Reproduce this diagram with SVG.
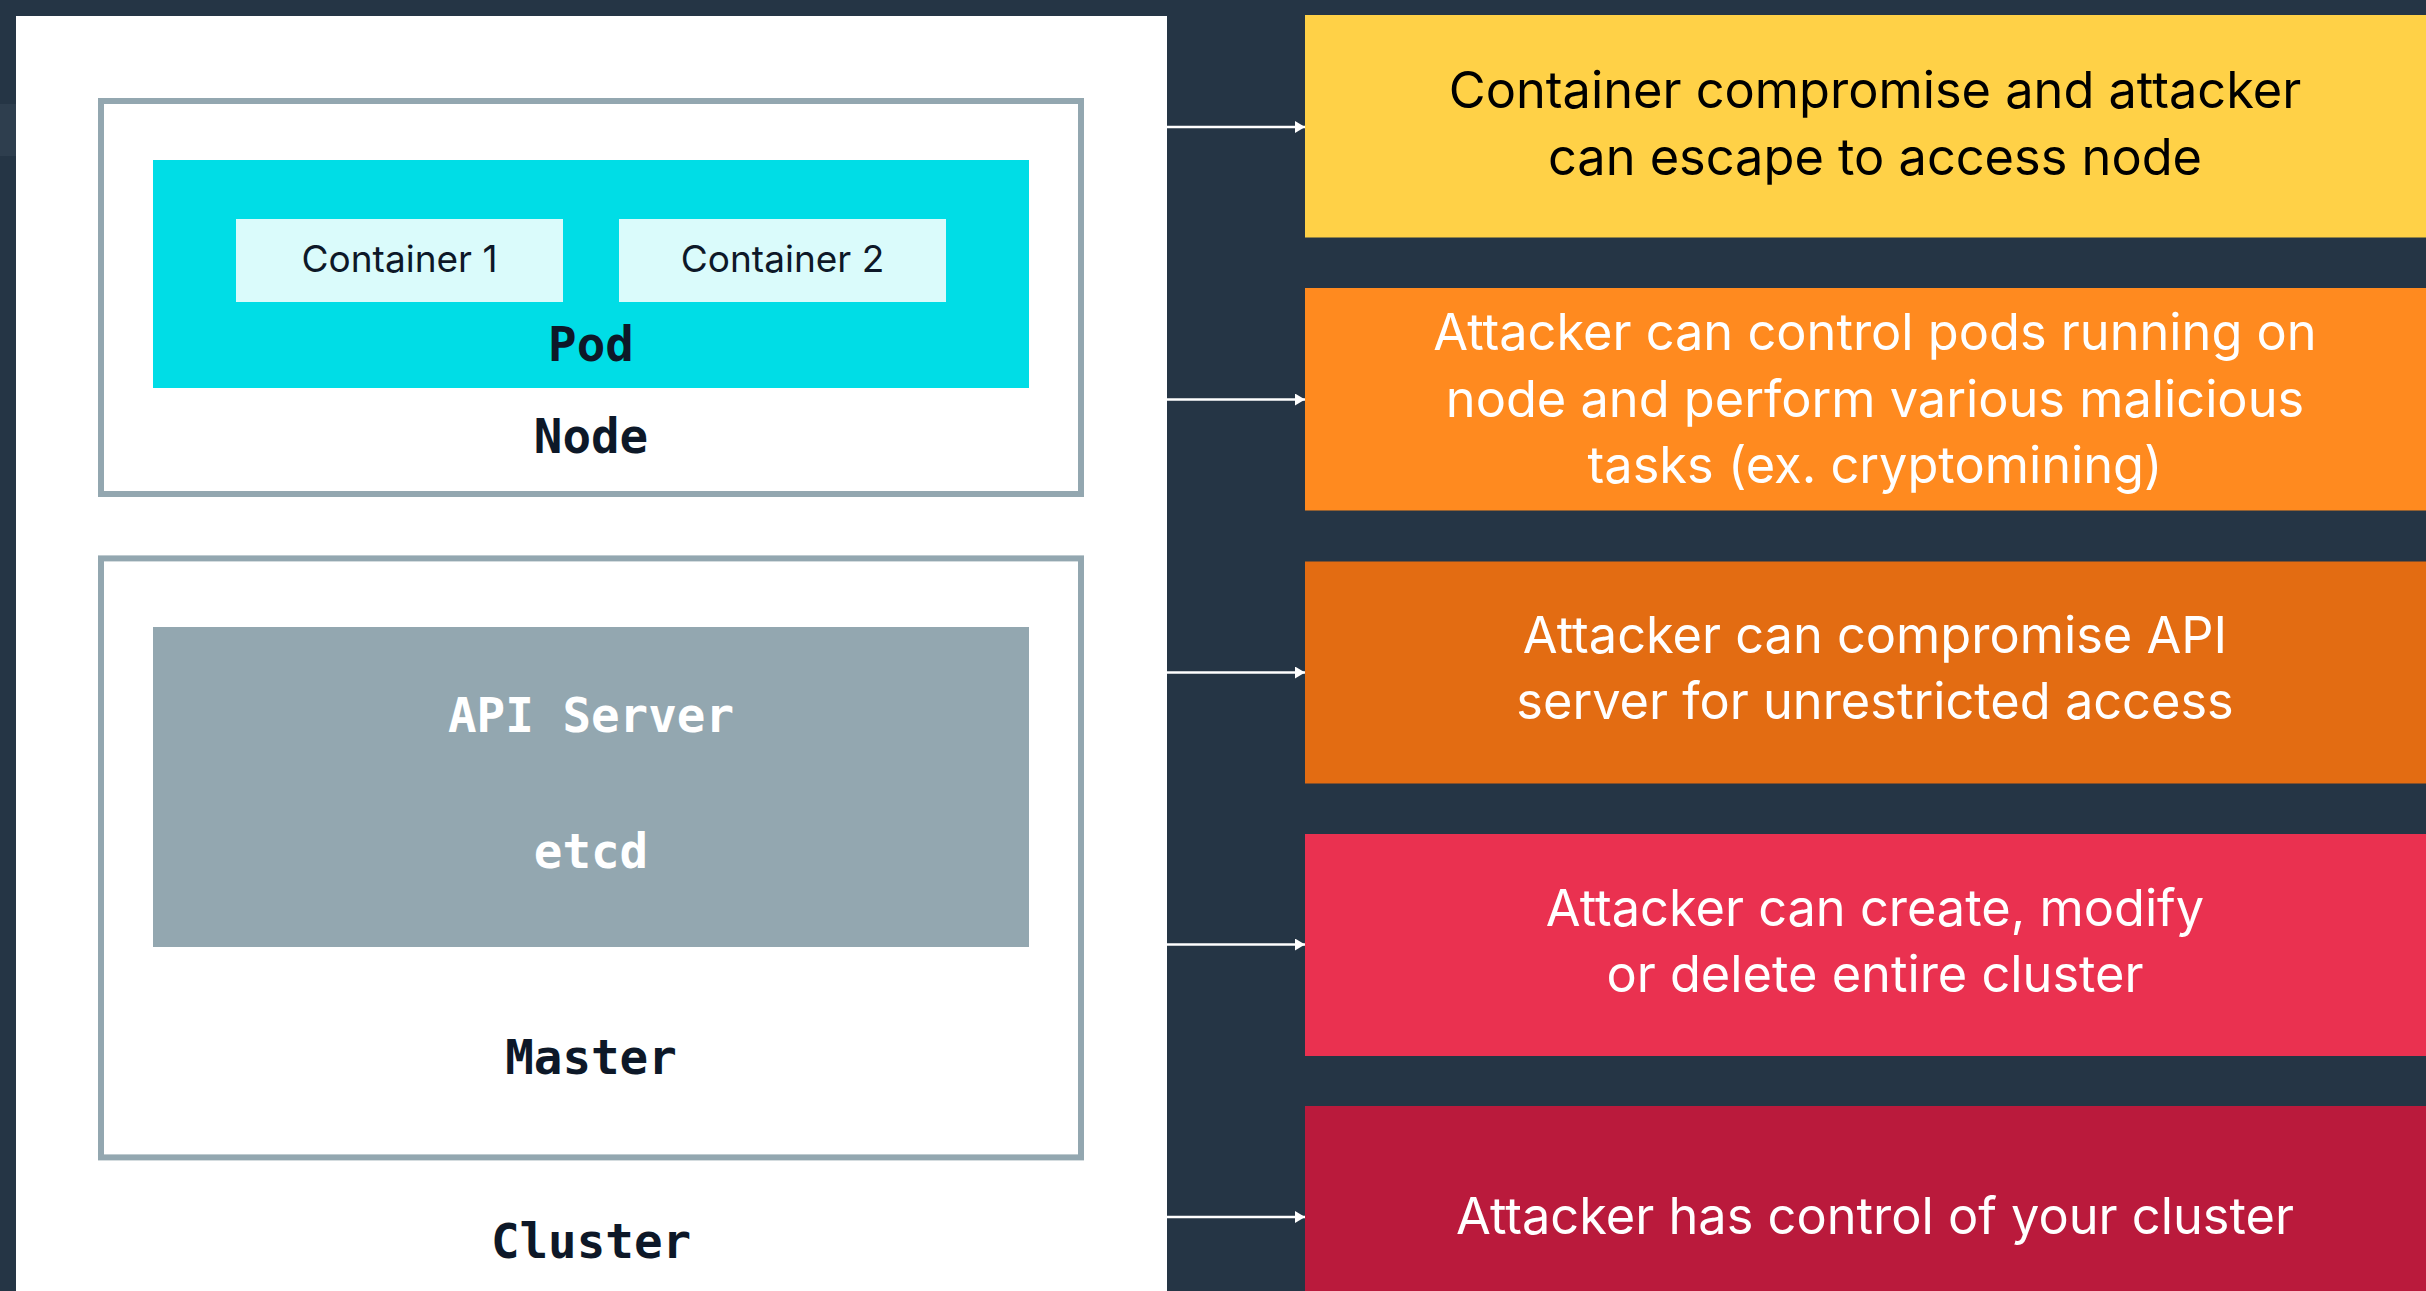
<svg xmlns="http://www.w3.org/2000/svg" width="2426" height="1291" viewBox="0 0 2426 1291">
<defs>
<style>
.mono{font-family:"DejaVu Sans Mono","Liberation Mono",monospace;font-weight:bold;font-size:47.5px;text-anchor:middle}
.dark{fill:#0d1828}
.light{fill:#ffffff}
.sans{font-family:Inter,"Noto Sans",sans-serif;text-anchor:middle}
.risk{font-size:50.5px}
.frame{fill:#ffffff;stroke:#93a7b0;stroke-width:6}
.conn{stroke:#ffffff;stroke-width:2.5;fill:none}
</style>
<marker id="ah" viewBox="0 0 10 12" refX="10" refY="6" markerUnits="userSpaceOnUse" markerWidth="10" markerHeight="12" orient="auto">
<path d="M0,0 L10,6 L0,12 Z" fill="#ffffff"/>
</marker>
</defs>
<rect x="0" y="0" width="2426" height="1291" fill="#253545"/>
<rect x="0" y="104" width="16" height="52" fill="#2e3e4e"/>
<g id="cluster">
<rect x="16" y="16" width="1151" height="1275" fill="#ffffff"/>
<text class="mono dark" x="591" y="1258">Cluster</text>
</g>
<g id="node">
<rect class="frame" x="101" y="101" width="980" height="393"/>
<text class="mono dark" x="591" y="453">Node</text>
</g>
<g id="pod">
<rect x="153" y="160" width="876" height="228" fill="#00dde6"/>
<text class="mono dark" x="591" y="361">Pod</text>
</g>
<g id="container1">
<rect x="236" y="219" width="327" height="83" fill="#dafbfb"/>
<text class="sans dark" x="399.5" y="272" font-size="37">Container 1</text>
</g>
<g id="container2">
<rect x="619" y="219" width="327" height="83" fill="#dafbfb"/>
<text class="sans dark" x="782.5" y="272" font-size="37">Container 2</text>
</g>
<g id="master">
<rect class="frame" x="101" y="558.4" width="980" height="599"/>
<text class="mono dark" x="591" y="1074">Master</text>
</g>
<g id="apiserver">
<rect x="153" y="627" width="876" height="320" fill="#93a7b0"/>
<text class="mono light" x="591" y="732">API Server</text>
<text class="mono light" x="591" y="868">etcd</text>
</g>
<g id="risk1">
<rect x="1305" y="15" width="1121" height="222.5" fill="#ffd147"/>
<text class="sans risk" x="1875" y="108" fill="#000000">Container compromise and attacker</text>
<text class="sans risk" x="1875" y="175" fill="#000000">can escape to access node</text>
</g>
<g id="risk2">
<rect x="1305" y="288" width="1121" height="222.5" fill="#ff8a1f"/>
<text class="sans risk light" x="1875" y="350">Attacker can control pods running on</text>
<text class="sans risk light" x="1875" y="416.7">node and perform various malicious</text>
<text class="sans risk light" x="1875" y="483.3">tasks (ex. cryptomining)</text>
</g>
<g id="risk3">
<rect x="1305" y="561.5" width="1121" height="222" fill="#e36c12"/>
<text class="sans risk light" x="1875" y="652.7">Attacker can compromise API</text>
<text class="sans risk light" x="1875" y="719">server for unrestricted access</text>
</g>
<g id="risk4">
<rect x="1305" y="834" width="1121" height="222" fill="#ea3150"/>
<text class="sans risk light" x="1875" y="925.6">Attacker can create, modify</text>
<text class="sans risk light" x="1875" y="992">or delete entire cluster</text>
</g>
<g id="risk5">
<rect x="1305" y="1106" width="1121" height="185" fill="#ba1a3c"/>
<text class="sans risk light" x="1875" y="1234.4">Attacker has control of your cluster</text>
</g>
<g id="connectors">
<line class="conn" x1="1167" y1="127" x2="1305" y2="127" marker-end="url(#ah)"/>
<line class="conn" x1="1167" y1="399.5" x2="1305" y2="399.5" marker-end="url(#ah)"/>
<line class="conn" x1="1167" y1="672.5" x2="1305" y2="672.5" marker-end="url(#ah)"/>
<line class="conn" x1="1167" y1="944.5" x2="1305" y2="944.5" marker-end="url(#ah)"/>
<line class="conn" x1="1167" y1="1217" x2="1305" y2="1217" marker-end="url(#ah)"/>
</g>
</svg>
